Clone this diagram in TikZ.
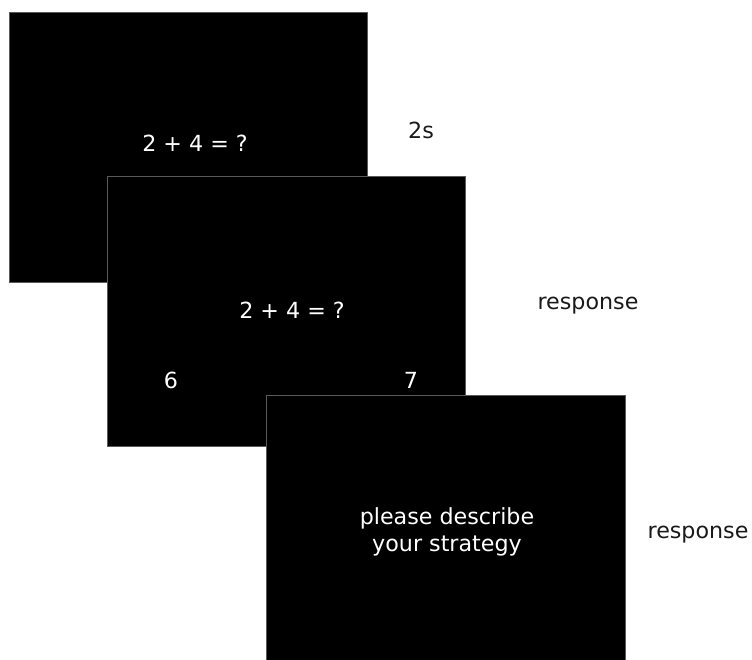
\documentclass[tikz,border=0pt]{standalone}
\usepackage{fontspec}
\setmainfont{DejaVu Sans}
\begin{document}
\begin{tikzpicture}[x=1pt,y=-1pt,
  screen/.style={fill=black,draw=black!65,line width=1pt},
  wtxt/.style={text=white,font=\fontsize{22.2}{28}\selectfont,inner sep=0pt,align=center},
  btxt/.style={text=black!90,font=\fontsize{22.2}{28}\selectfont,inner sep=0pt}]
\useasboundingbox (0,0) rectangle (752,659);
\begin{scope}
\clip (0,0) rectangle (752,659);
\draw[screen] (9,12) rectangle (367,282);
\node[wtxt] (q1) at (195,143) {2 + 4 = ?};
\draw[screen] (107,176) rectangle (465,446);
\node[wtxt] (q2) at (292,310) {2 + 4 = ?};
\node[wtxt] (a6) at (171,380) {6};
\node[wtxt] (a7) at (411,380) {7};
\draw[screen] (266,395) rectangle (625,665);
\node[wtxt] (p1) at (447,518) {please describe};
\node[wtxt] (p2) at (447,546) {your strategy};
\end{scope}
\node[btxt] (t1) at (421,130) {2s};
\node[btxt] (t2) at (588,306) {response};
\node[btxt] (t3) at (698,535) {response};
\end{tikzpicture}
\end{document}
